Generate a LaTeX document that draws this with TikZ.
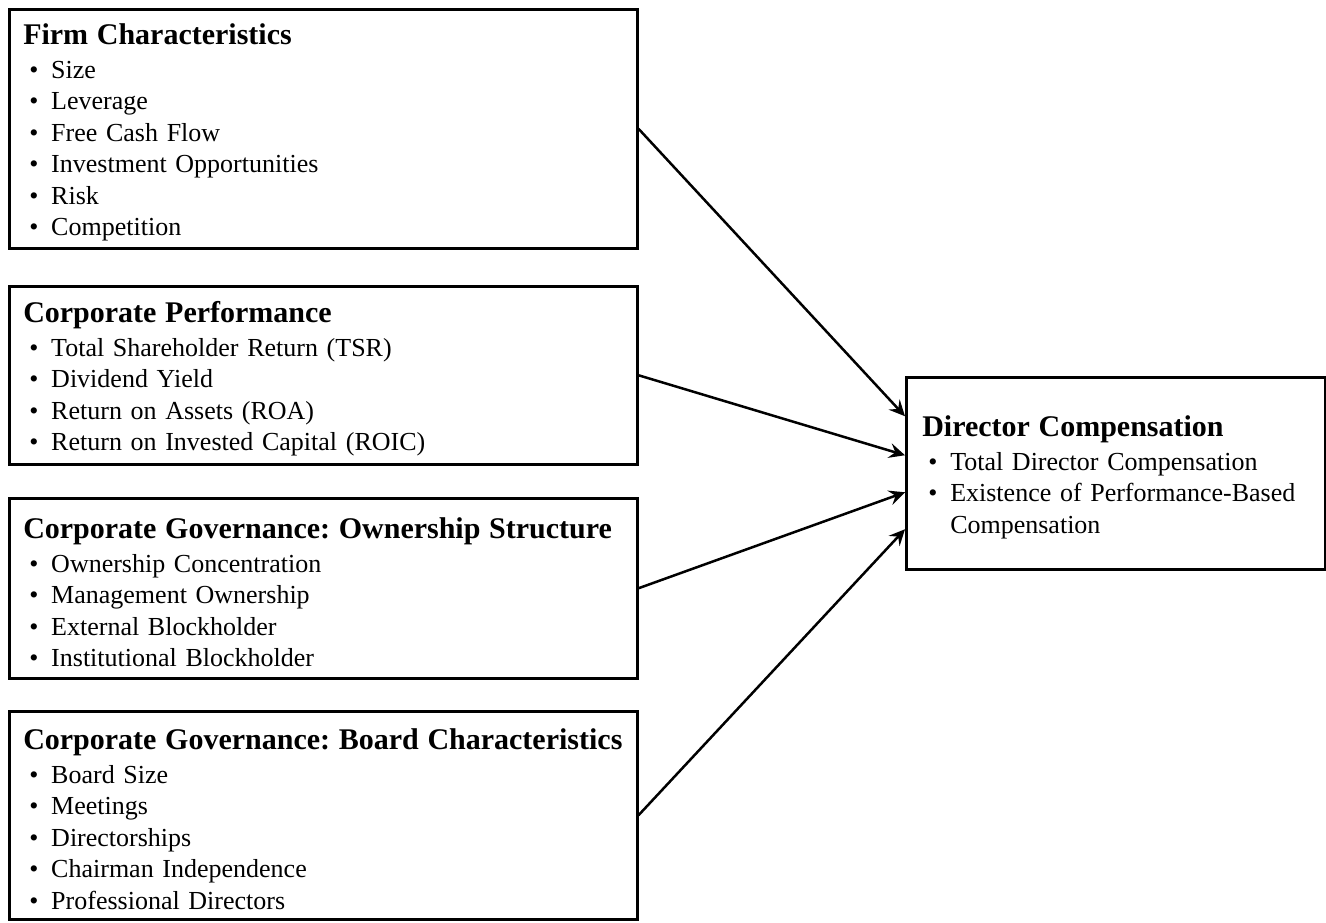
\documentclass[tikz,border=0pt]{standalone}
\usepackage{fontspec}
\setmainfont{Liberation Serif}
\usetikzlibrary{arrows.meta}
\frenchspacing
\DeclareRobustCommand{\boxfont}{\fontsize{13}{15.75}\selectfont\spaceskip=2.2pt plus 1pt minus 0.5pt\relax}
\newcommand{\itm}[1]{\hspace*{3pt}\makebox[11pt][l]{\textbullet}#1}
\newcommand{\hd}[1]{{\fontsize{15}{17}\selectfont\bfseries\rule{0pt}{14.5pt}#1}}

\begin{document}
\begin{tikzpicture}[x=0.5pt, y=-0.5pt]
	\tikzstyle{every node} = [font=\boxfont]
	\tikzstyle{factor} = [draw, line width=1.25pt, anchor=north west, align=left, inner xsep=7pt, inner ysep=0pt, text width=300pt, minimum width=314pt]
	\tikzstyle{link} = [line width=1.25pt, -{Stealth[length=8pt, width=7.5pt, inset=3pt]}]
	\useasboundingbox (0,0) rectangle (1326,922);
	\node[factor, minimum height=119.5pt] (firm) at (8,8) {\hd{Firm Characteristics}\\[1pt]
		\itm{Size}\\ \itm{Leverage}\\ \itm{Free Cash Flow}\\ \itm{Investment Opportunities}\\ \itm{Risk}\\ \itm{Competition}};
	\node[factor, minimum height=89pt] (perf) at (8,285) {\hd{Corporate Performance}\\[1pt]
		\itm{Total Shareholder Return (TSR)}\\ \itm{Dividend Yield}\\ \itm{Return on Assets (ROA)}\\ \itm{Return on Invested Capital (ROIC)}};
	\node[factor, minimum height=90pt] (own) at (8,497) {\hd{Corporate Governance: Ownership Structure}\\[1pt]
		\itm{Ownership Concentration}\\ \itm{Management Ownership}\\ \itm{External Blockholder}\\ \itm{Institutional Blockholder}};
	\node[factor, minimum height=104pt] (board) at (8,710) {\hd{Corporate Governance: Board Characteristics}\\[1pt]
		\itm{Board Size}\\ \itm{Meetings}\\ \itm{Directorships}\\ \itm{Chairman Independence}\\ \itm{Professional Directors}};
	\node[factor, inner xsep=8pt, text width=193.5pt, minimum width=209.5pt, minimum height=96pt] (comp) at (905,376) {\hd{Director Compensation}\\[1pt]
		\itm{Total Director Compensation}\\ \itm{Existence of Performance-Based}\\ \hspace*{14pt}Compensation};
	\draw[link] (firm.east)  -- ([yshift=28.5pt]comp.west);
	\draw[link] (perf.east)  -- ([yshift=9pt]comp.west);
	\draw[link] (own.east)   -- ([yshift=-9.5pt]comp.west);
	\draw[link] (board.east) -- ([yshift=-28pt]comp.west);
\end{tikzpicture}
\end{document}
